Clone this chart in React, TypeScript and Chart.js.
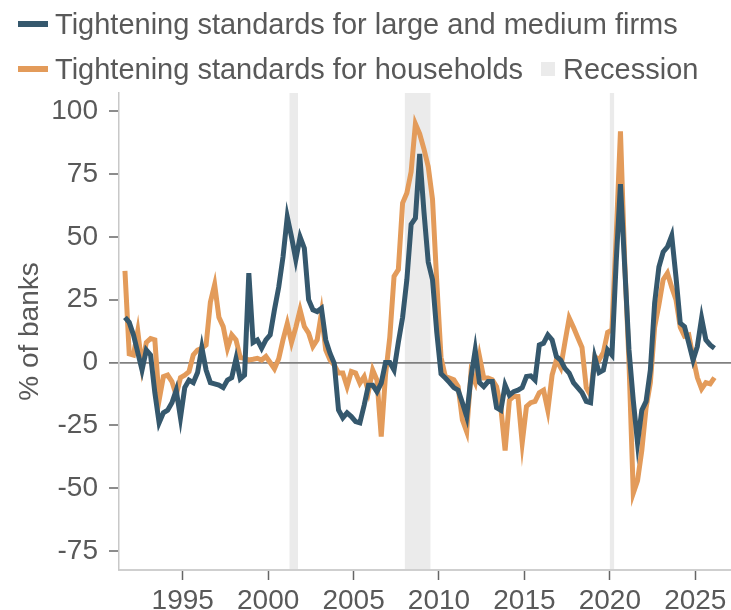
import React, { useEffect, useRef } from "react";
import { Chart, registerables } from "chart.js";

Chart.register(...registerables);

// Survey quarters (x categories)
const QUARTERS: string[] = (
  "1991Q3 1991Q4 " +
  "1992Q1 1992Q2 1992Q3 1992Q4 1993Q1 1993Q2 1993Q3 1993Q4 " +
  "1994Q1 1994Q2 1994Q3 1994Q4 1995Q1 1995Q2 1995Q3 1995Q4 " +
  "1996Q1 1996Q2 1996Q3 1996Q4 1997Q1 1997Q2 1997Q3 1997Q4 " +
  "1998Q1 1998Q2 1998Q3 1998Q4 1999Q1 1999Q2 1999Q3 1999Q4 " +
  "2000Q1 2000Q2 2000Q3 2000Q4 2001Q1 2001Q2 2001Q3 2001Q4 " +
  "2002Q1 2002Q2 2002Q3 2002Q4 2003Q1 2003Q2 2003Q3 2003Q4 " +
  "2004Q1 2004Q2 2004Q3 2004Q4 2005Q1 2005Q2 2005Q3 2005Q4 " +
  "2006Q1 2006Q2 2006Q3 2006Q4 2007Q1 2007Q2 2007Q3 2007Q4 " +
  "2008Q1 2008Q2 2008Q3 2008Q4 2009Q1 2009Q2 2009Q3 2009Q4 " +
  "2010Q1 2010Q2 2010Q3 2010Q4 2011Q1 2011Q2 2011Q3 2011Q4 " +
  "2012Q1 2012Q2 2012Q3 2012Q4 2013Q1 2013Q2 2013Q3 2013Q4 " +
  "2014Q1 2014Q2 2014Q3 2014Q4 2015Q1 2015Q2 2015Q3 2015Q4 " +
  "2016Q1 2016Q2 2016Q3 2016Q4 2017Q1 2017Q2 2017Q3 2017Q4 " +
  "2018Q1 2018Q2 2018Q3 2018Q4 2019Q1 2019Q2 2019Q3 2019Q4 " +
  "2020Q1 2020Q2 2020Q3 2020Q4 2021Q1 2021Q2 2021Q3 2021Q4 " +
  "2022Q1 2022Q2 2022Q3 2022Q4 2023Q1 2023Q2 2023Q3 2023Q4 " +
  "2024Q1 2024Q2 2024Q3 2024Q4 2025Q1 2025Q2 2025Q3 2025Q4 " +
  "2026Q1"
).trim().split(/\s+/);

// Net % of banks tightening: large and medium firms
const FIRMS: number[] = [
  18, 16,
  11, 4, -3, 5,
  3, -12, -24, -20,
  -19, -16, -11, -22,
  -10, -7, -8, -4,
  6, -3, -8, -8.5,
  -9, -10, -7, -6,
  1.5, -6.5, -5, 35.6,
  8, 9, 5.7, 9,
  11, 21, 30, 42,
  58, 50, 41, 50,
  45.5, 25, 21, 20.3,
  21.6, 9, 3.7, -0.3,
  -18.9, -22, -20, -21.5,
  -23.5, -24, -17, -9,
  -9, -11.6, -8.2, 0,
  0, -3, 8, 18,
  33, 55, 57.5, 83,
  60, 40, 33, 12,
  -4.5, -6.2, -8, -10,
  -11, -16, -21.5, -6,
  5, -8, -9.6, -7.6,
  -7.6, -18, -19, -9,
  -13, -11.6, -11, -10,
  -5.6, -5.3, -7, 7,
  7.7, 11, 9, 2.4,
  1, -2.3, -4.2, -8,
  -10, -12, -15.5, -16,
  2, -4, -3, 5,
  3, 40, 71, 38,
  5, -15, -32, -19,
  -15.5, -3, 23.6, 38,
  44, 46, 50.5, 34,
  15.7, 14.3, 7.7, 1,
  6.4, 17.7, 9, 7,
  5.7,
];

// Net % of banks tightening: households
const HOUSEHOLDS: number[] = [
  36.5, 3.5,
  3, 12.5, -1.5, 8,
  9.5, 9, -15, -5.6,
  -5, -7.6, -13, -6,
  -5, -3.6, 3, 5,
  5.7, 7, 24, 31,
  18, 14.3, 5.7, 11,
  9, 2, 1.7, 1,
  1.3, 1.7, 1, 2.4,
  0, -2.5, 1.5, 9,
  15.5, 8, 14, 21,
  14.3, 11.7, 6.4, 9,
  19.7, 5, 1, -1,
  -4.2, -4.2, -9.6, -3.6,
  -4.2, -8.2, -5.6, -11.6,
  -3, -7, -29.5, -5,
  10, 34.3, 37, 63.5,
  67.5, 76, 95, 91,
  85, 78, 65, 32,
  2, -5.6, -6.2, -6.9,
  -9.6, -22.8, -27.5, -4.2,
  -8, 2.4, -6.2, -6.2,
  -6.9, -9.6, -18, -35,
  -15, -13.5, -13.5, -32,
  -17.5, -16, -15.5, -12,
  -11, -19, -5, 1,
  -2, 8, 17.7, 14,
  10, 6, -10, -13,
  2.4, 1, 4, 12,
  13, 50, 92, 40,
  0, -52, -47, -35,
  -18, -8, 14, 23,
  33, 35.6, 30, 25,
  14, 10.5, 11, 2,
  -6, -10.5, -8, -8.5,
  -6,
];

// Recession periods [start quarter, end quarter (exclusive)]
const RECESSIONS: [string, string][] = [
  ["2001Q2", "2001Q4"],
  ["2008Q1", "2009Q3"],
  ["2020Q1", "2020Q2"],
];

const X_TICKS = [1995, 2000, 2005, 2010, 2015, 2020, 2025];
const Y_TICKS = [-75, -50, -25, 0, 25, 50, 75, 100];

const SERIES_NAMES = [
  "Tightening standards for large and medium firms",
  "Tightening standards for households",
  "Recession",
];

const BLUE = "#35586d";
const ORANGE = "#e39b5a";
const BAND = "#ebebeb";
const TEXT = "#595959";
const FONT = '"Liberation Sans", Arial, Helvetica, sans-serif';

const quarterStart = (q: string) => {
  const y = parseInt(q.slice(0, 4), 10);
  const n = parseInt(q.slice(5), 10);
  return y + (n - 1) / 4;
};
// survey observations are plotted a little into the quarter
const quarterPoint = (q: string) => quarterStart(q) + 0.12;

const recessionPlugin = {
  id: "recessionBands",
  beforeDraw(chart: any) {
    const { ctx, chartArea, scales } = chart;
    const x = scales.x;
    ctx.save();
    ctx.beginPath();
    ctx.rect(chartArea.left, chartArea.top, chartArea.right - chartArea.left, chartArea.bottom - chartArea.top);
    ctx.clip();
    ctx.fillStyle = BAND;
    RECESSIONS.forEach(([s, e]) => {
      const x1 = x.getPixelForValue(quarterStart(s));
      const x2 = x.getPixelForValue(quarterStart(e));
      ctx.fillRect(x1, chartArea.top, x2 - x1, chartArea.bottom - chartArea.top);
    });
    ctx.restore();
  },
};

export default function App() {
  const canvasRef = useRef<HTMLCanvasElement>(null);

  useEffect(() => {
    if (!canvasRef.current) return;
    Chart.defaults.font.family = FONT;
    const chart = new Chart(canvasRef.current, {
      type: "line",
      data: {
        datasets: [
          {
            label: SERIES_NAMES[0],
            data: FIRMS.map((v, i) => ({ x: quarterPoint(QUARTERS[i]), y: v })),
            borderColor: BLUE,
            backgroundColor: BLUE,
            borderWidth: 5,
            pointRadius: 0,
            tension: 0,
            order: 0,
          },
          {
            label: SERIES_NAMES[1],
            data: HOUSEHOLDS.map((v, i) => ({ x: quarterPoint(QUARTERS[i]), y: v })),
            borderColor: ORANGE,
            backgroundColor: ORANGE,
            borderWidth: 5,
            pointRadius: 0,
            tension: 0,
            order: 1,
          },
        ],
      },
      options: {
        responsive: false,
        animation: false,
        devicePixelRatio: 1,
        layout: { padding: { top: 93, left: 0, right: 0, bottom: 0 } },
        plugins: {
          legend: { display: false },
          tooltip: { enabled: false },
        },
        scales: {
          x: {
            type: "linear",
            min: 1991.272,
            max: 2027.09,
            afterFit: (s: any) => {
              s.height = 40;
            },
            afterBuildTicks: (s: any) => {
              s.ticks = X_TICKS.map((v) => ({ value: v }));
            },
            grid: {
              drawOnChartArea: false,
              drawTicks: true,
              tickLength: 10,
              tickColor: "#666666",
              tickWidth: 1.5,
            },
            border: { display: true, color: "#cfcfcf", width: 2 },
            ticks: {
              color: TEXT,
              font: { size: 28 },
              padding: 4,
              maxRotation: 0,
              autoSkip: false,
              callback: (v: any) => String(v),
            },
          },
          y: {
            type: "linear",
            min: -82.6,
            max: 107.3,
            afterFit: (s: any) => {
              s.width = 119;
            },
            afterBuildTicks: (s: any) => {
              s.ticks = Y_TICKS.map((v) => ({ value: v }));
            },
            grid: {
              drawOnChartArea: true,
              color: (c: any) => (c.tick && c.tick.value === 0 ? "#808080" : "rgba(0,0,0,0)"),
              lineWidth: (c: any) => (c.tick && c.tick.value === 0 ? 1.8 : 0),
              drawTicks: true,
              tickLength: 10,
              tickColor: "#666666",
              tickWidth: 1.5,
            },
            border: { display: true, color: "#c8c8c8", width: 1.5 },
            title: {
              display: true,
              text: "% of banks",
              color: TEXT,
              font: { size: 28 },
              padding: { top: 13, bottom: 0 },
            },
            ticks: {
              color: TEXT,
              font: { size: 28 },
              padding: 11,
              autoSkip: false,
              callback: (v: any) => String(v),
            },
          },
        },
      },
      plugins: [recessionPlugin],
    } as any);
    return () => chart.destroy();
  }, []);

  const textStyle: React.CSSProperties = {
    position: "absolute",
    fontSize: 29,
    lineHeight: "29px",
    color: TEXT,
    whiteSpace: "nowrap",
    fontFamily: FONT,
  };

  return (
    <div
      style={{
        position: "absolute",
        left: 0,
        top: 0,
        width: 731,
        height: 610,
        overflow: "hidden",
        background: "#ffffff",
        fontFamily: FONT,
      }}
    >
      <canvas ref={canvasRef} width={731} height={610} style={{ position: "absolute", left: 0, top: 0 }} />
      <div style={{ position: "absolute", left: 18, top: 21, width: 30, height: 6, background: BLUE }} />
      <div style={{ ...textStyle, left: 55, top: 10 }}>{SERIES_NAMES[0]}</div>
      <div style={{ position: "absolute", left: 18, top: 65.5, width: 30, height: 6, background: ORANGE }} />
      <div style={{ ...textStyle, left: 55, top: 54.5 }}>{SERIES_NAMES[1]}</div>
      <div style={{ position: "absolute", left: 541, top: 62, width: 14, height: 14, background: BAND }} />
      <div style={{ ...textStyle, left: 563, top: 54.5 }}>{SERIES_NAMES[2]}</div>
    </div>
  );
}
